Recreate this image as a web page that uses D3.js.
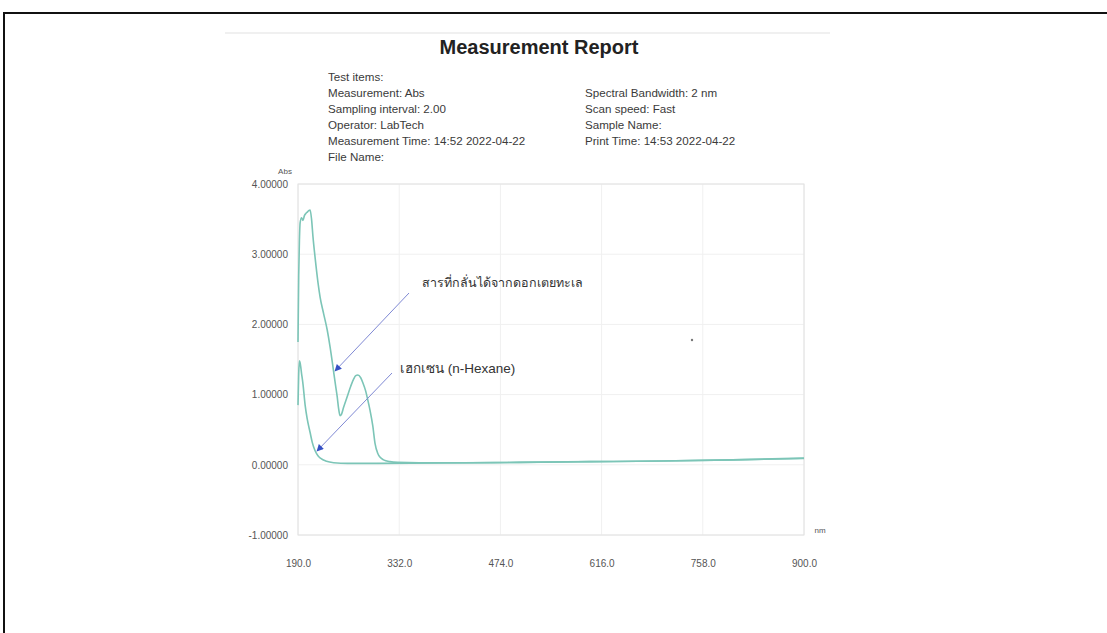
<!DOCTYPE html>
<html>
<head>
<meta charset="utf-8">
<script src="https://cdn.jsdelivr.net/npm/d3@7"></script>
<style>
	body { margin:0; background:#fff; }
	svg { display:block; font-family:"Liberation Sans", Arial, sans-serif; }
</style>
</head>
<body>
<svg id="chart" width="1107" height="633"></svg>
<script>
// spectrum readings (nm, Abs)
var sampleNm  = [190,191,192,193,195,197,199,201,203,205,207,209,211,214,218,221,226,231,235,239,242,245,247,249,251,254,259,264,268,271,274,278,281,285,288,291,295,298,302,305,310,319,330,360,420,500,600,700,800,900];
var sampleAbs = [1.75,2.7,3.2,3.45,3.52,3.48,3.55,3.58,3.6,3.62,3.63,3.5,3.25,2.95,2.6,2.39,2.15,1.92,1.68,1.4,1.18,0.97,0.8,0.7,0.72,0.82,0.97,1.12,1.22,1.27,1.28,1.24,1.17,1.05,0.92,0.78,0.55,0.31,0.16,0.11,0.07,0.045,0.035,0.03,0.03,0.035,0.045,0.055,0.07,0.095];
var hexNm  = [190,191,192,193,195,197,200,203,207,210,214,218,222,230,240,260,300,400,500,600,700,800,900];
var hexAbs = [0.85,1.3,1.48,1.45,1.3,1.15,0.85,0.65,0.46,0.32,0.2,0.13,0.09,0.05,0.03,0.02,0.02,0.025,0.035,0.045,0.055,0.07,0.09];
var xTicks = [190,332,474,616,758,900];
var yTicks = [4,3,2,1,0,-1];
var infoLeft  = ["Test items:","Measurement: Abs","Sampling interval: 2.00","Operator: LabTech","Measurement Time: 14:52 2022-04-22","File Name:"];
var infoRight = ["Spectral Bandwidth: 2 nm","Scan speed: Fast","Sample Name:","Print Time: 14:53 2022-04-22"];
var labelSample = "สารที่กลั่นได้จากดอกเตยทะเล";
var labelHexane = "เฮกเซน (n-Hexane)";

var svg = d3.select('#chart');
var x = d3.scaleLinear().domain([190,900]).range([298,804]);
var y = d3.scaleLinear().domain([-1,4]).range([535,184]);

// outer frame, cut off on the right and bottom
svg.append('path').attr('d','M4,633 V13 H1107').attr('fill','none').attr('stroke','#111').attr('stroke-width',2);
svg.append('line').attr('x1',225).attr('x2',830).attr('y1',33).attr('y2',33).attr('stroke','#f0f0f0').attr('stroke-width',2);

// header
svg.append('text').attr('x',539).attr('y',54).attr('text-anchor','middle')
	.style('font-size','20px').style('font-weight','bold').attr('fill','#222').text('Measurement Report');
svg.append('g').selectAll('text').data(infoLeft).enter().append('text')
	.attr('x',328).attr('y',function(d,i){return 81+i*16;})
	.style('font-size','11.6px').attr('fill','#3a3a3a').text(function(d){return d;});
svg.append('g').selectAll('text').data(infoRight).enter().append('text')
	.attr('x',585).attr('y',function(d,i){return 97+i*16;})
	.style('font-size','11.6px').attr('fill','#3a3a3a').text(function(d){return d;});

// grid
var grid = svg.append('g');
grid.selectAll('line.v').data(xTicks).enter().append('line').attr('class','v')
	.attr('x1',function(d){return x(d);}).attr('x2',function(d){return x(d);})
	.attr('y1',y(4)).attr('y2',y(-1)).attr('stroke','#f0f0f0');
grid.selectAll('line.h').data(yTicks).enter().append('line').attr('class','h')
	.attr('y1',function(d){return y(d);}).attr('y2',function(d){return y(d);})
	.attr('x1',x(190)).attr('x2',x(900)).attr('stroke','#f0f0f0');
svg.append('rect').attr('x',x(190)).attr('y',y(4)).attr('width',x(900)-x(190)).attr('height',y(-1)-y(4))
	.attr('fill','none').attr('stroke','#e2e2e2');

// axes
var fmtY = d3.format('.5f');
var yAxis = svg.append('g').attr('transform','translate('+(x(190)-10)+',0)')
	.call(d3.axisLeft(y).tickValues(yTicks).tickFormat(function(d){return fmtY(d).replace('\u2212','-');}).tickSize(0));
yAxis.select('.domain').remove();
yAxis.selectAll('text').attr('fill','#555').style('font-size','10px').attr('x',0);
var xAxis = svg.append('g').attr('transform','translate(0,'+(y(-1)+22)+')')
	.call(d3.axisBottom(x).tickValues(xTicks).tickFormat(d3.format('.1f')).tickSize(0));
xAxis.select('.domain').remove();
xAxis.selectAll('text').attr('fill','#555').style('font-size','10px');
svg.append('text').attr('x',285).attr('y',174).attr('text-anchor','middle').style('font-size','8px').attr('fill','#555').text('Abs');
svg.append('text').attr('x',820).attr('y',533).attr('text-anchor','middle').style('font-size','8px').attr('fill','#555').text('nm');
svg.append('circle').attr('cx',692).attr('cy',340).attr('r',1.2).attr('fill','#777');

// spectra
var line = d3.line().x(function(d){return x(d[0]);}).y(function(d){return y(d[1]);}).curve(d3.curveMonotoneX);
[[hexNm,hexAbs],[sampleNm,sampleAbs]].forEach(function(s){
	svg.append('path').datum(d3.zip(s[0],s[1])).attr('d',line)
		.attr('fill','none').attr('stroke','#7cc5b7').attr('stroke-width',1.6);
});

// annotations
svg.append('defs').append('marker').attr('id','head').attr('viewBox','0 0 10 10')
	.attr('refX',9).attr('refY',5).attr('markerWidth',9).attr('markerHeight',7).attr('orient','auto')
	.append('path').attr('d','M0,0 L10,5 L0,10 z').attr('fill','#3550c4');
var notes = [
	{text:labelSample, tx:422, ty:287, size:'12.5px', from:[409,293], to:[335,371]},
	{text:labelHexane, tx:400, ty:373, size:'13.5px', from:[392,373], to:[317,451]}
];
notes.forEach(function(n){
	svg.append('line').attr('x1',n.from[0]).attr('y1',n.from[1]).attr('x2',n.to[0]).attr('y2',n.to[1])
		.attr('stroke','#7f89d4').attr('stroke-width',1).attr('marker-end','url(#head)');
	svg.append('text').attr('x',n.tx).attr('y',n.ty).style('font-size',n.size).attr('fill','#333').text(n.text);
});
</script>
</body>
</html>
